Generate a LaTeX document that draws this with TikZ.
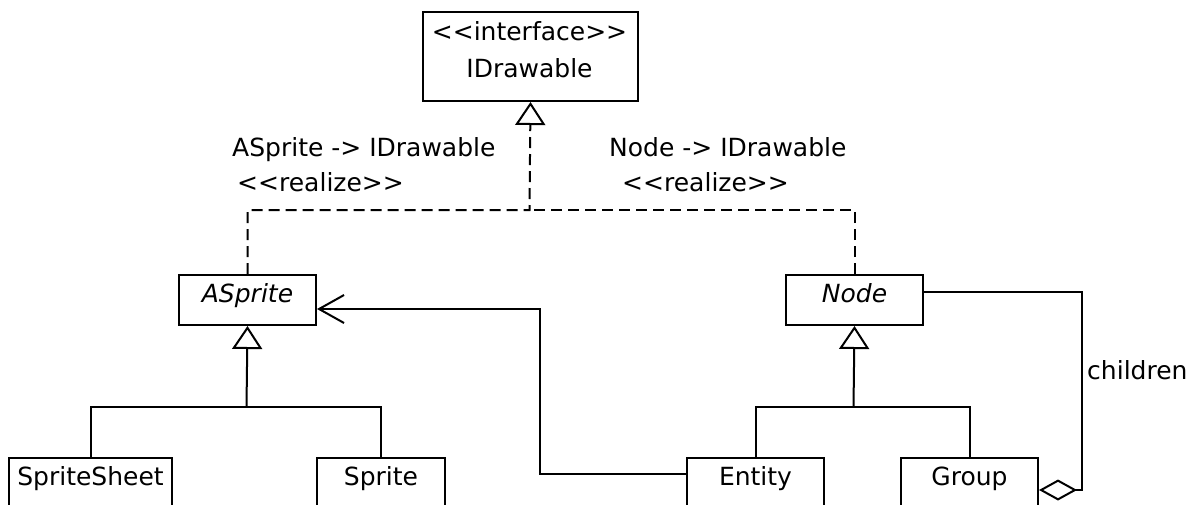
\documentclass[tikz,border=0pt]{standalone}
\usepackage{fontspec}
\setmainfont{DejaVu Sans}
\usetikzlibrary{arrows.meta}

\begin{document}
\begin{tikzpicture}[x=1pt, y=-1pt,
  font=\fontsize{25}{37}\selectfont,
  line/.style={line width=2pt},
  classbox/.style={draw, line, inner sep=0pt, text height=27pt, text depth=23pt, anchor=north west},
  lbl/.style={inner sep=0pt, anchor=base west},
  realize/.style={line, dash pattern=on 11pt off 6pt},
  inherit/.style={line, -{Triangle[open, length=23pt, width=30pt]}},
  assoc/.style={line, -{Straight Barb[length=25pt, width=28pt]}},
  aggr/.style={line, -{Diamond[open, length=38pt, width=21pt]}}]

\useasboundingbox (0,0) rectangle (1189,504);

% interface
\node[draw, line, minimum width=215pt, minimum height=89pt, anchor=north west] (idrawable) at (422,11) {};
\node[anchor=base] (istereo) at (529.5,40) {<{}<interface>{}>};
\node[anchor=base] (iname) at (529.5,77) {IDrawable};

% classes
\node[classbox, minimum width=137pt] (asprite) at (178,274) {\textit{ASprite}};
\node[classbox, minimum width=137pt] (nodecls) at (785,274) {\textit{Node}};
\node[classbox, minimum width=163pt, text depth=60pt] (spritesheet) at (8,457) {SpriteSheet};
\node[classbox, minimum width=128pt, text depth=60pt] (sprite) at (316,457) {Sprite};
\node[classbox, minimum width=137pt, text depth=60pt] (entity) at (686,457) {Entity};
\node[classbox, minimum width=137pt, text depth=60pt] (group) at (900,457) {Group};

\coordinate (rjoin) at (529.5,210);
\coordinate (sjoin) at (246.5,407);
\coordinate (njoin) at (853.5,407);
\coordinate (abend) at (540,309);
\coordinate (gbend) at (1082,490);

% realizations
\draw[realize, -{Triangle[open, length=23pt, width=30pt]}] (asprite.north) |- (rjoin) -- (idrawable.south);
\draw[realize] (nodecls.north) |- (rjoin);
\node[lbl] (alabel) at (232,156) {ASprite -> IDrawable};
\node[lbl] (arealize) at (237,191) {<{}<realize>{}>};
\node[lbl] (nlabel) at (609,156) {Node -> IDrawable};
\node[lbl] (nrealize) at (622,191) {<{}<realize>{}>};

% inheritance
\draw[inherit] (sjoin) -- (asprite.south);
\draw[line] (spritesheet.north) |- (sjoin) -| (sprite.north);
\draw[inherit] (njoin) -- (nodecls.south);
\draw[line] (entity.north) |- (njoin) -| (group.north);

% associations
\draw[assoc] ([yshift=-17pt]entity.north west) -| (abend) -- (asprite.east |- abend);
\draw[aggr] ([yshift=-18pt]nodecls.north east) -| (gbend) -- (group.east |- gbend);
\node[lbl] (children) at (1087,379) {children};

\end{tikzpicture}
\end{document}
